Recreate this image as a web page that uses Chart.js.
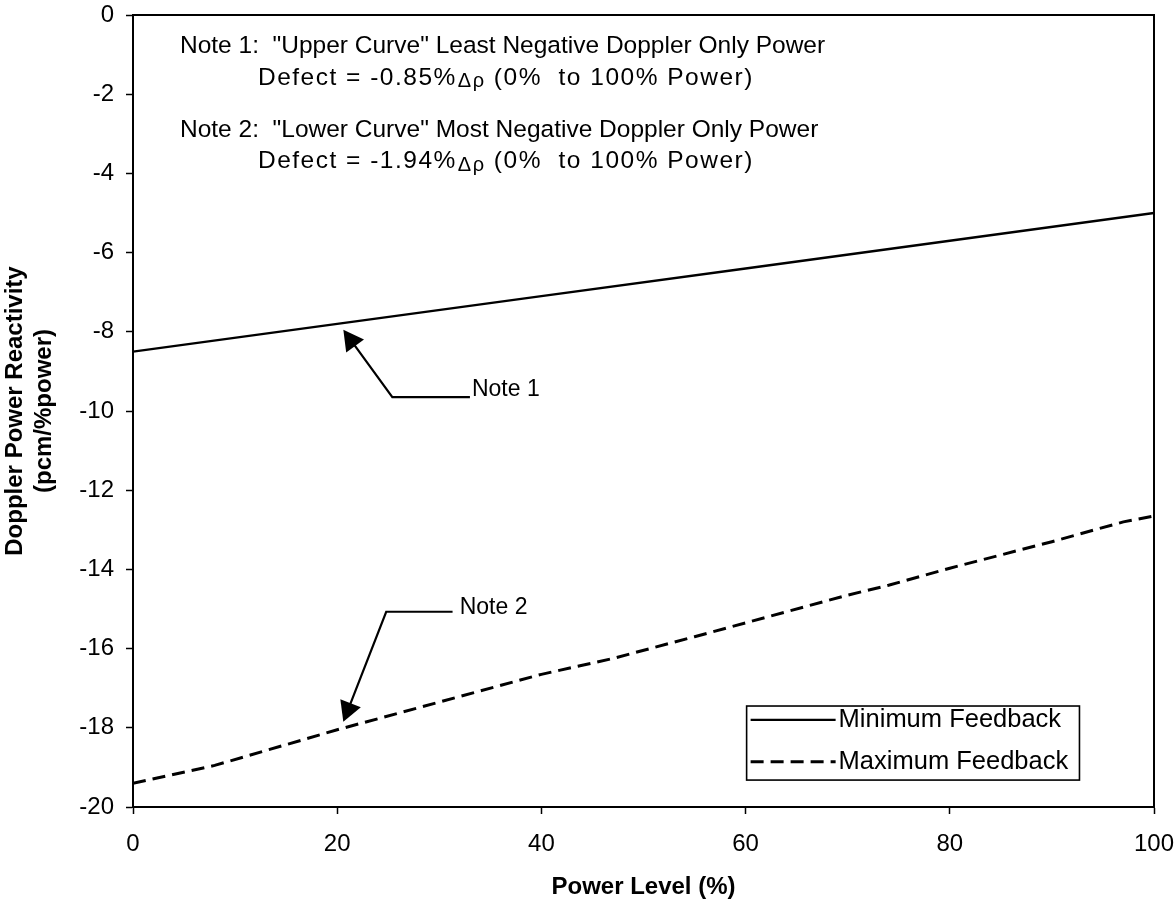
<!DOCTYPE html>
<html>
<head>
<meta charset="utf-8">
<script src="https://cdn.jsdelivr.net/npm/chart.js@4.4.1/dist/chart.umd.min.js"></script>
<style>
  html, body { margin: 0; padding: 0; background: #fff; }
  canvas { display: block; }
</style>
</head>
<body>
<canvas id="chart" width="1176" height="905"></canvas>
<script>
// Doppler power reactivity versus power level
const powerLevel = [0, 20, 40, 60, 80, 100];
const minimumFeedback = [-8.5, -7.8, -7.1, -6.4, -5.7, -5.0];

const powerLevelMax = [0, 8, 20, 30, 40, 47, 55, 60, 70, 74, 80, 90, 97, 100];
const maximumFeedback = [-19.4, -18.95, -18.05, -17.35, -16.65, -16.25, -15.7, -15.35, -14.65, -14.4, -13.97, -13.3, -12.8, -12.65];

const seriesNames = ['Minimum Feedback', 'Maximum Feedback'];
const xTitle = 'Power Level (%)';
const yTitle = ['Doppler Power Reactivity', '(pcm/%power)'];

const noteLines = [
  { head: 'Note 1:  "Upper Curve" Least Negative Doppler Only Power', pre: 'Defect = -0.85%', sym: '\u0394\u03C1', post: ' (0%  to 100% Power)' },
  { head: 'Note 2:  "Lower Curve" Most Negative Doppler Only Power', pre: 'Defect = -1.94%', sym: '\u0394\u03C1', post: ' (0%  to 100% Power)' }
];
const calloutLabels = ['Note 1', 'Note 2'];

const FONT = '"Liberation Sans", Arial, Helvetica, sans-serif';

const toXY = (xs, ys) => xs.map((x, i) => ({ x, y: ys[i] }));

// Placement of the text block and callouts, in data units
const noteLayout = [
  { headX: 4.6, headY: -0.78, subX: 12.24, subY: -1.59 },
  { headX: 4.6, headY: -2.9, subX: 12.24, subY: -3.69 }
];
const callouts = [
  { tip: [20.6, -7.95], elbow: [25.4, -9.65], end: [33.0, -9.65], text: [33.2, -9.47] },
  { tip: [20.6, -17.85], elbow: [24.8, -15.07], end: [31.3, -15.07], text: [32.0, -14.97] }
];
const legendBox = { left: 60.1, right: 92.7, top: -17.45, bottom: -19.32, rows: [-17.8, -18.86] };

const overlay = {
  id: 'overlay',
  afterDatasetsDraw(chart) {
    const { ctx, chartArea: a, scales: { x, y } } = chart;
    const px = v => x.getPixelForValue(v);
    const py = v => y.getPixelForValue(v);
    ctx.save();
    ctx.fillStyle = '#000';
    ctx.strokeStyle = '#000';

    // top and right frame
    ctx.lineWidth = 2;
    ctx.setLineDash([]);
    ctx.beginPath();
    ctx.moveTo(a.left, a.top);
    ctx.lineTo(a.right, a.top);
    ctx.lineTo(a.right, a.bottom);
    ctx.stroke();

    // note text block
    ctx.textBaseline = 'middle';
    ctx.textAlign = 'left';
    noteLines.forEach((n, i) => {
      const L = noteLayout[i];
      ctx.letterSpacing = '0px';
      ctx.font = `24.5px ${FONT}`;
      ctx.fillText(n.head, px(L.headX), py(L.headY));
      ctx.letterSpacing = '1.5px';
      let cx = px(L.subX);
      const cy = py(L.subY);
      ctx.fillText(n.pre, cx, cy);
      cx += ctx.measureText(n.pre).width;
      ctx.font = `20px ${FONT}`;
      ctx.fillText(n.sym, cx + 1, cy + 4);
      cx += ctx.measureText(n.sym).width + 1;
      ctx.font = `24.5px ${FONT}`;
      ctx.fillText(n.post, cx, cy);
      ctx.letterSpacing = '0px';
    });

    // callout arrows
    callouts.forEach((c, i) => {
      const tx = px(c.tip[0]), ty = py(c.tip[1]);
      const ex = px(c.elbow[0]), ey = py(c.elbow[1]);
      const dx = tx - ex, dy = ty - ey;
      const len = Math.hypot(dx, dy);
      const ux = dx / len, uy = dy / len;
      const headLen = 20, headHalf = 11;
      const bx = tx - ux * headLen, by = ty - uy * headLen;
      ctx.lineWidth = 2.2;
      ctx.beginPath();
      ctx.moveTo(px(c.end[0]), py(c.end[1]));
      ctx.lineTo(ex, ey);
      ctx.lineTo(bx + ux * 2, by + uy * 2);
      ctx.stroke();
      ctx.beginPath();
      ctx.moveTo(tx, ty);
      ctx.lineTo(bx - uy * headHalf, by + ux * headHalf);
      ctx.lineTo(bx + uy * headHalf, by - ux * headHalf);
      ctx.closePath();
      ctx.fill();
      ctx.font = `23px ${FONT}`;
      ctx.fillText(calloutLabels[i], px(c.text[0]), py(c.text[1]));
    });

    // legend
    const lx0 = px(legendBox.left), lx1 = px(legendBox.right);
    const ly0 = py(legendBox.top), ly1 = py(legendBox.bottom);
    ctx.fillStyle = '#fff';
    ctx.fillRect(lx0, ly0, lx1 - lx0, ly1 - ly0);
    ctx.fillStyle = '#000';
    ctx.lineWidth = 1.6;
    ctx.strokeRect(lx0, ly0, lx1 - lx0, ly1 - ly0);
    chart.data.datasets.forEach((ds, i) => {
      const ry = py(legendBox.rows[i]);
      ctx.lineWidth = ds.borderWidth;
      ctx.setLineDash(ds.borderDash || []);
      ctx.beginPath();
      ctx.moveTo(lx0 + 4, ry);
      ctx.lineTo(lx0 + 89, ry);
      ctx.stroke();
      ctx.setLineDash([]);
      ctx.font = `25.5px ${FONT}`;
      ctx.fillText(ds.label, lx0 + 92, ry);
    });
    ctx.restore();
  }
};

new Chart(document.getElementById('chart'), {
  type: 'line',
  data: {
    datasets: [
      {
        label: seriesNames[0],
        data: toXY(powerLevel, minimumFeedback),
        borderColor: '#000',
        borderWidth: 2.4,
        pointRadius: 0,
        tension: 0,
        fill: false
      },
      {
        label: seriesNames[1],
        data: toXY(powerLevelMax, maximumFeedback),
        borderColor: '#000',
        borderWidth: 3,
        borderDash: [13, 7],
        pointRadius: 0,
        tension: 0,
        fill: false
      }
    ]
  },
  options: {
    responsive: false,
    animation: false,
    devicePixelRatio: 1,
    layout: { padding: { left: 0, right: 22, top: 15, bottom: 0 } },
    plugins: { legend: { display: false }, tooltip: { enabled: false } },
    scales: {
      x: {
        type: 'linear',
        min: 0,
        max: 100,
        ticks: { stepSize: 20, color: '#000', font: { family: FONT, size: 24 }, padding: 16, maxRotation: 0 },
        grid: { drawOnChartArea: false, tickLength: 7, color: '#000', tickWidth: 1.5 },
        border: { display: true, color: '#000', width: 2 },
        title: { display: true, text: xTitle, color: '#000', font: { family: FONT, size: 24, weight: 'bold' }, padding: { top: 4, bottom: 3 } },
        afterFit(scale) {
          scale.height = 98;
          scale.paddingLeft = 0;
          scale.paddingRight = 0;
        }
      },
      y: {
        type: 'linear',
        min: -20,
        max: 0,
        ticks: { stepSize: 2, color: '#000', font: { family: FONT, size: 24 }, padding: 12 },
        grid: { drawOnChartArea: false, tickLength: 7, color: '#000', tickWidth: 1.5 },
        border: { display: true, color: '#000', width: 2 },
        title: { display: true, text: yTitle, color: '#000', font: { family: FONT, size: 24, weight: 'bold' }, padding: { top: 1, bottom: 1 } },
        afterFit(scale) {
          scale.width = 133;
          scale.paddingTop = 0;
          scale.paddingBottom = 0;
        }
      }
    }
  },
  plugins: [overlay]
});
</script>
</body>
</html>
